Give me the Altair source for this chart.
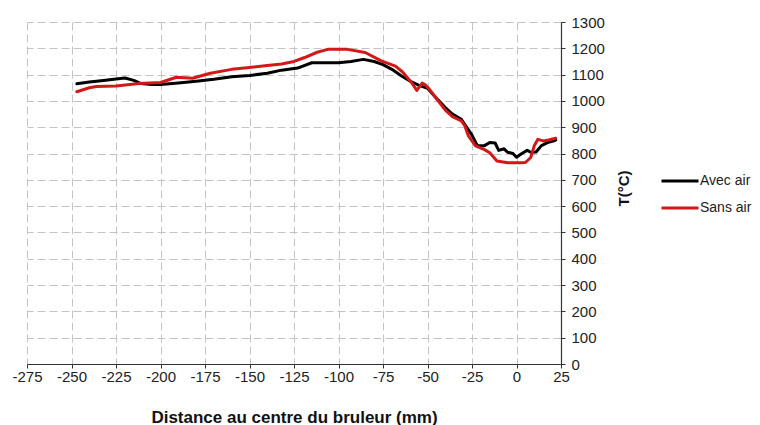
import altair as alt
import pandas as pd

# ---- data ----
series_names = ["Avec air", "Sans air"]

x_avec = [-247, -240, -232, -225, -220, -215, -211, -205, -200, -190, -180, -170,
          -160, -150, -140, -132, -123, -115, -108, -100, -93, -86, -80, -75,
          -70, -65, -59, -55, -50, -44, -40, -36, -31, -27, -25, -22, -18, -15,
          -12, -10, -7, -5, -2, 0, 3, 6, 8, 11, 14, 18, 21, 22]
t_avec = [1065, 1072, 1078, 1083, 1087, 1078, 1066, 1062, 1062, 1068, 1075, 1082,
          1092, 1097, 1105, 1117, 1125, 1145, 1145, 1145, 1150, 1158, 1150, 1138,
          1120, 1097, 1072, 1060, 1048, 1003, 975, 950, 930, 890, 870, 830, 830, 842,
          840, 812, 818, 805, 800, 786, 800, 812, 805, 806, 830, 843, 848, 852]

x_sans = [-247, -240, -236, -225, -212, -200, -191, -182, -172, -160, -150, -140,
          -132, -125, -119, -112, -106, -95, -85, -76, -68, -64, -59, -56, -53,
          -51, -49, -44, -40, -36, -31, -29, -27, -23, -18, -15, -11, -5, 2, 5,
          8, 10, 12, 15, 18, 22]
t_sans = [1035, 1050, 1055, 1057, 1066, 1070, 1090, 1086, 1105, 1120, 1127, 1135,
          1140, 1150, 1165, 1185, 1196, 1196, 1184, 1152, 1132, 1110, 1070, 1040, 1068,
          1060, 1045, 1000, 965, 940, 924, 905, 867, 829, 815, 803, 772, 765, 765, 766,
          785, 830, 854, 848, 852, 858]

x_ticks = list(range(-275, 26, 25))
y_ticks = list(range(0, 1301, 100))

df = pd.concat([
    pd.DataFrame({"x": x_avec, "t": t_avec, "serie": series_names[0],
                  "idx": range(len(x_avec))}),
    pd.DataFrame({"x": x_sans, "t": t_sans, "serie": series_names[1],
                  "idx": range(len(x_sans))}),
], ignore_index=True)

FONT = "Arial, Liberation Sans, sans-serif"

chart = (
    alt.Chart(df)
    .mark_line(strokeWidth=3, strokeJoin="round", strokeCap="round")
    .encode(
        x=alt.X("x:Q",
                scale=alt.Scale(domain=[-275, 25], nice=False, zero=False),
                axis=alt.Axis(values=x_ticks, title="Distance au centre du bruleur (mm)",
                              labelExpr="toString(datum.value)",
                              grid=True, gridDash=[8, 4], gridColor="#c4c4c4", gridWidth=1,
                              domainColor="#333333", domainWidth=1.2,
                              tickColor="#333333", tickSize=4,
                              labelFont=FONT, labelFontSize=15, labelColor="#222222",
                              labelPadding=1, labelFlush=False, labelOverlap=False,
                              titleFont=FONT, titleFontSize=17, titleFontWeight="bold",
                              titleColor="#111111", titleBaseline="alphabetic", titleY=58)),
        y=alt.Y("t:Q",
                scale=alt.Scale(domain=[0, 1300], nice=False),
                axis=alt.Axis(orient="right", values=y_ticks, title="T(°C)",
                              labelExpr="toString(datum.value)",
                              grid=True, gridDash=[8, 4], gridColor="#c4c4c4", gridWidth=1,
                              domainColor="#333333", domainWidth=1.2,
                              tickColor="#333333", tickSize=4,
                              labelFont=FONT, labelFontSize=15, labelColor="#222222",
                              labelPadding=6, labelFlush=False, labelOverlap=False,
                              titleFont=FONT, titleFontSize=15, titleFontWeight="bold",
                              titleColor="#111111", titleAngle=270,
                              titleAlign="center", titleBaseline="middle",
                              titleX=62, titleY=166)),
        color=alt.Color("serie:N",
                        scale=alt.Scale(domain=series_names, range=["#000000", "#d41717"]),
                        legend=alt.Legend(title=None, orient="none", legendX=633, legendY=139,
                                          symbolType="stroke", symbolSize=1369,
                                          symbolStrokeWidth=3, labelOffset=0,
                                          labelFont=FONT, labelFontSize=14,
                                          labelColor="#222222", rowPadding=-12,
                                          padding=0)),
        order="idx:Q",
    )
    .properties(width=534, height=342,
                padding={"left": 19, "top": 14, "right": 191, "bottom": 62},
                autosize="none")
    .configure_view(stroke=None)
)

chart.save("out.html", embed_options={"renderer": "svg", "actions": False})
